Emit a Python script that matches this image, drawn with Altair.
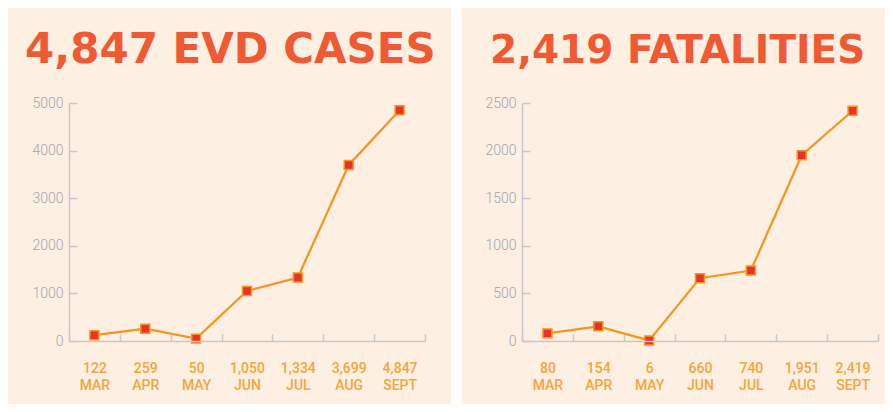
import altair as alt
import pandas as pd

months = ["MAR", "APR", "MAY", "JUN", "JUL", "AUG", "SEPT"]
cases = [122, 259, 50, 1050, 1334, 3699, 4847]
deaths = [80, 154, 6, 660, 740, 1951, 2419]
titles = ["4,847 EVD CASES", "2,419 FATALITIES"]
case_ticks = [0, 1000, 2000, 3000, 4000, 5000]
death_ticks = [0, 500, 1000, 1500, 2000, 2500]

BG = "#fdf0e2"
TITLE = "#ef5a35"
LINE = "#f7941e"
DOT = "#e8332a"
LABEL = "#f9a43a"
AXIS = "#c6c7cf"
YLAB = "#a3a5b0"

W, H = 356, 238


def panel(values, ticks, ymax, title, tsize, tx, rect):
    df = pd.DataFrame({
        "key": [f"{v:,}|{m}" for v, m in zip(values, months)],
        "value": values,
    })
    order = list(df["key"])
    xscale = alt.Scale(type="band", paddingInner=0, paddingOuter=0)
    yscale = alt.Scale(domain=[0, ymax], nice=False, zero=True)

    bg = alt.Chart(pd.DataFrame({"t": [title]})).mark_rect(color=BG).encode(
        x=alt.value(rect[0]), x2=alt.value(rect[1]),
        y=alt.value(rect[2]), y2=alt.value(rect[3]))

    ttl = alt.Chart(pd.DataFrame({"t": [title]})).mark_text(
        align="left", baseline="alphabetic", font="DejaVu Sans",
        fontWeight="bold", fontSize=tsize, color=TITLE
    ).encode(x=alt.value(tx), y=alt.value(-40), text="t:N")

    line = alt.Chart(df).mark_line(color=LINE, strokeWidth=2.2).encode(
        x=alt.X("key:N", sort=order, scale=xscale, axis=alt.Axis(
            orient="bottom", title=None, ticks=False,
            labelExpr="split(datum.label, '|')", labelAngle=0,
            labelPadding=31, labelBaseline="alphabetic", labelFont="Roboto",
            labelFontWeight=500, labelFontSize=14, labelColor=LABEL,
            labelLineHeight=17, labelOverlap=False, domainColor=AXIS,
            domainWidth=1.5, zindex=1, tickBand="extent")),
        y=alt.Y("value:Q", scale=yscale, axis=alt.Axis(
            orient="left", title=None, values=ticks, format="d", ticks=False,
            labelPadding=6, labelFont="Roboto", labelFontWeight=300,
            labelFontSize=14, labelColor=YLAB, domainColor=AXIS,
            domainWidth=1.5, grid=False, zindex=1)),
    )

    pts = alt.Chart(df).mark_square(
        size=80, color=DOT, stroke=LINE, strokeWidth=1.5, opacity=1
    ).encode(
        x=alt.X("key:N", sort=order, scale=xscale, axis=alt.Axis(
            orient="top", offset=-H, title=None, labels=False, domain=False,
            tickBand="extent", tickSize=7, tickColor=AXIS, tickWidth=1.5,
            zindex=1)),
        y=alt.Y("value:Q", scale=yscale, axis=alt.Axis(
            orient="right", offset=-W, title=None, values=ticks, labels=False,
            domain=False, tickSize=8, tickColor=AXIS, tickWidth=1.5,
            grid=False, zindex=1)),
    )

    return alt.layer(bg, ttl, line, pts).resolve_axis(
        x="independent", y="independent"
    ).properties(width=W, height=H)


left = panel(cases, case_ticks, 5000, titles[0], 42, -44, (-61, 382, -95, 301))
right = panel(deaths, death_ticks, 2500, titles[1], 39, -32, (-60, 363, -95, 301))

chart = alt.hconcat(
    left, right, spacing=97, bounds="flush", padding=0, background="white"
).configure_view(stroke=None)

chart.save("out.html", embed_options={"renderer": "svg", "actions": False})
